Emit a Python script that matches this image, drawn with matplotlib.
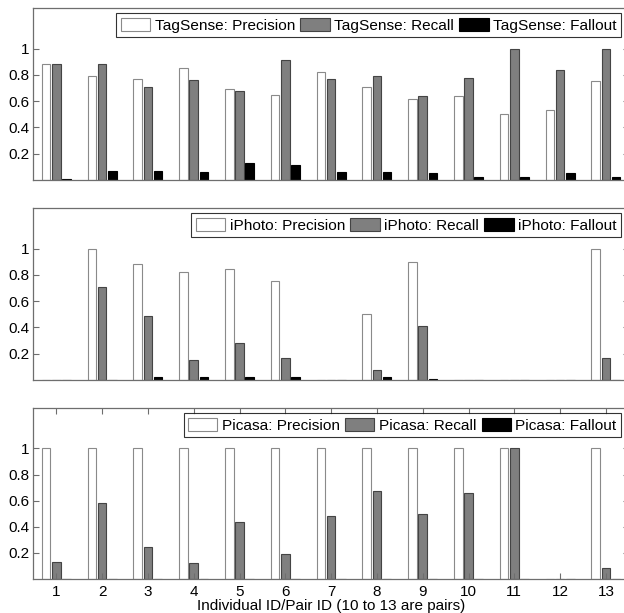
import numpy as np
import matplotlib
matplotlib.use("Agg")
import matplotlib.pyplot as plt

plt.rcParams['font.family'] = ['Liberation Sans', 'DejaVu Sans']

ids = list(range(1, 14))
tick_labels = ['0.2', '0.4', '0.6', '0.8', '1']
tick_values = [0.2, 0.4, 0.6, 0.8, 1.0]

tagsense_precision = [0.88, 0.79, 0.77, 0.85, 0.69, 0.65, 0.82, 0.71, 0.615, 0.64, 0.505, 0.53, 0.755]
tagsense_recall = [0.88, 0.885, 0.71, 0.765, 0.68, 0.915, 0.77, 0.79, 0.64, 0.78, 1.0, 0.835, 1.0]
tagsense_fallout = [0.005, 0.068, 0.068, 0.058, 0.13, 0.113, 0.063, 0.058, 0.053, 0.025, 0.02, 0.053, 0.025]

iphoto_precision = [0, 1.0, 0.885, 0.825, 0.847, 0.752, 0, 0.5, 0.9, 0, 0, 0, 1.0]
iphoto_recall = [0, 0.712, 0.49, 0.155, 0.28, 0.17, 0, 0.075, 0.414, 0, 0, 0, 0.17]
iphoto_fallout = [0, 0, 0.025, 0.02, 0.025, 0.02, 0, 0.02, 0.007, 0, 0, 0, 0]

picasa_precision = [1.0, 1.0, 1.0, 1.0, 1.0, 1.0, 1.0, 1.0, 1.0, 1.0, 1.0, 0, 1.0]
picasa_recall = [0.129, 0.585, 0.244, 0.124, 0.433, 0.194, 0.48, 0.677, 0.5, 0.662, 1.0, 0, 0.087]
picasa_fallout = [0] * 13

panels = [
    ("TagSense", tagsense_precision, tagsense_recall, tagsense_fallout),
    ("iPhoto", iphoto_precision, iphoto_recall, iphoto_fallout),
    ("Picasa", picasa_precision, picasa_recall, picasa_fallout),
]

W, H = 624, 613
fig = plt.figure(figsize=(W / 100, H / 100), dpi=100)

# axes are wider than the picture: right spine is cut off like in the original
left, right = 33.4, 628.8
tops = [8, 208, 408]
bottoms = [180, 380, 579]
spine_col = '#6e6e6e'
offset = 0.222
width = 0.19
x = np.array(ids)

for k, (name, prec, rec, fall) in enumerate(panels):
    ax = fig.add_axes([left / W, 1 - bottoms[k] / H, (right - left) / W, (bottoms[k] - tops[k]) / H])
    ax.bar(x - offset, prec, width, facecolor='white', edgecolor='#8a8a8a', linewidth=0.8,
           label=f'{name}: Precision')
    ax.bar(x, rec, width, facecolor='#7f7f7f', edgecolor='#444444', linewidth=0.8,
           label=f'{name}: Recall')
    ax.bar(x + offset, fall, width, facecolor='black', edgecolor='black', linewidth=0.8,
           label=f'{name}: Fallout')
    ax.set_xlim(0.5, 13.5)
    ax.set_ylim(0, 1.31)
    ax.set_yticks(tick_values)
    ax.set_yticklabels(tick_labels)
    ax.tick_params(axis='y', direction='in', left=True, right=True, length=4,
                   color=spine_col, labelsize=11, pad=3)
    if k == 2:
        ax.set_xticks(ids)
        ax.set_xticklabels([str(i) for i in ids])
        ax.tick_params(axis='x', direction='in', top=True, bottom=True, length=4,
                       color=spine_col, labelsize=11, pad=4)
        ax.set_xlabel('Individual ID/Pair ID (10 to 13 are pairs)', fontsize=11, labelpad=0)
    else:
        ax.set_xticks([])
    for s in ax.spines.values():
        s.set_color(spine_col)
        s.set_linewidth(0.9)
    leg = ax.legend(loc='upper right', bbox_to_anchor=(621 / W, 1 - (tops[k] + 5) / H),
                    bbox_transform=fig.transFigure, ncol=3, fontsize=11.1, frameon=True,
                    fancybox=False, borderaxespad=0, handlelength=1.9, handleheight=0.95,
                    handletextpad=0.28, columnspacing=0.35, borderpad=0.3)
    leg.get_frame().set_edgecolor('black')
    leg.get_frame().set_linewidth(0.8)

fig.savefig('out.png', dpi=100)
